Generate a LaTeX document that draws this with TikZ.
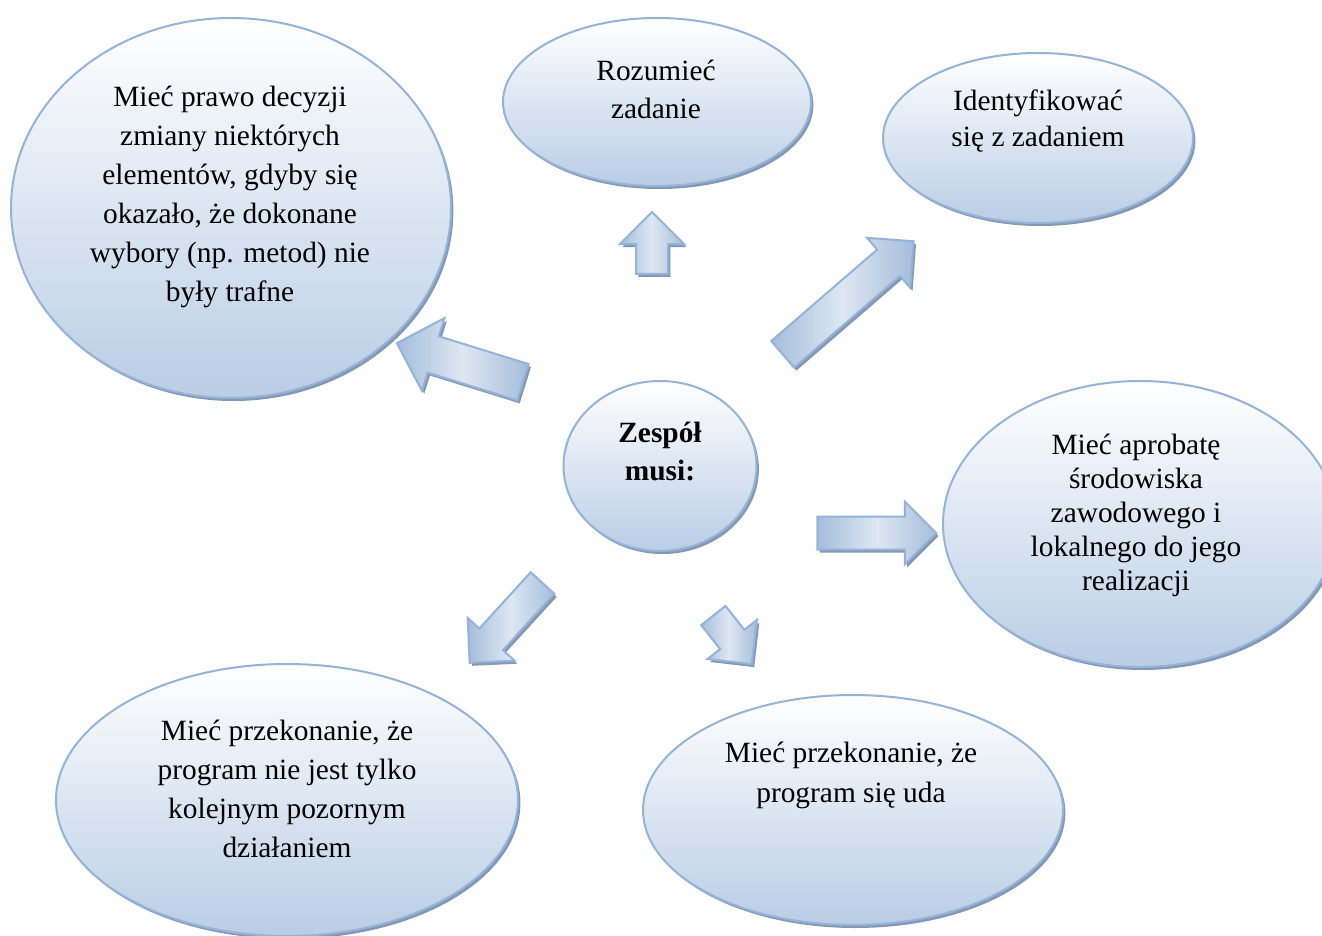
\documentclass[tikz,border=0pt]{standalone}
\usepackage{fontspec}
\setmainfont{Liberation Serif}
\usetikzlibrary{shapes.geometric,shapes.arrows,shadows}

\definecolor{bubbleline}{RGB}{149,179,215}
\definecolor{bubblefill}{RGB}{185,205,229}
\definecolor{arrowdark}{RGB}{164,189,220}
\definecolor{arrowlight}{RGB}{222,231,242}
\definecolor{shadowcol}{RGB}{132,151,180}

\begin{document}
\begin{tikzpicture}[
		x=0.5pt, y=-0.5pt,
		bubble/.style={ellipse, draw=bubbleline, line width=1pt, top color=white, bottom color=bubblefill, inner sep=0pt, drop shadow={shadow xshift=1.2pt, shadow yshift=-1.5pt, fill=shadowcol, opacity=1}},
		txt/.style={inner sep=0pt, align=center, font=\fontsize{14.7pt}{#1}\selectfont},
		txt/.default=19.5pt,
		barrow/.style={single arrow, draw=bubbleline, line width=1pt, inner xsep=0pt, left color=arrowdark, right color=arrowdark, middle color=arrowlight, drop shadow={shadow xshift=1.2pt, shadow yshift=-1.5pt, fill=shadowcol, opacity=1}},
		]
		\fill[white] (0,0) rectangle (1322,936);
		\useasboundingbox (0,0) rectangle (1322,936);

		%Main Nodes
		\node[bubble, minimum width=220pt, minimum height=190pt]	(decision)		at (231,208)	{};
		\node[bubble, minimum width=154pt, minimum height=84pt]	(understand)	at (657,102)	{};
		\node[bubble, minimum width=155pt, minimum height=85pt]	(identify)		at (1038,138)	{};
		\node[bubble, minimum width=96.5pt, minimum height=85pt]	(team)			at (660,466)	{};
		\node[bubble, minimum width=197pt, minimum height=143pt]	(approval)		at (1140,524)	{};
		\node[bubble, minimum width=231pt, minimum height=136pt]	(conviction_1)	at (287,800)	{};
		\node[bubble, minimum width=210pt, minimum height=115pt]	(conviction_2)	at (853,810)	{};

		%Texts
		\node[txt]			(decision_txt)		at (230,197)	{Mieć prawo decyzji\\zmiany niektórych\\elementów, gdyby się\\okazało, że dokonane\\wybory (np. metod) nie\\były trafne};
		\node[txt=19pt]		(understand_txt)	at (656,89)		{Rozumieć\\zadanie};
		\node[txt=18pt]		(identify_txt)		at (1038,121)	{Identyfikować\\się z zadaniem};
		\node[txt=19pt]		(team_txt)			at (660,451)	{\textbf{Zespół}\\\textbf{musi:}};
		\node[txt=17pt]		(approval_txt)		at (1136,515)	{Mieć aprobatę\\środowiska\\zawodowego i\\lokalnego do jego\\realizacji};
		\node[txt]			(conviction_1_txt)	at (287,789)	{Mieć przekonanie, że\\program nie jest tylko\\kolejnym pozornym\\działaniem};
		\node[txt=20pt]		(conviction_2_txt)	at (851,775)	{Mieć przekonanie, że\\program się uda};

		%Arrows
		\node[barrow, minimum height=31pt, inner ysep=7.5pt, single arrow head extend=8pt, rotate=90]			(arr_understand)	at (652,251)		{};
		\node[barrow, minimum height=86.5pt, inner ysep=8.25pt, single arrow head extend=7.75pt, rotate=40.8]	(arr_identify)		at (841.5,303.5)	{};
		\node[barrow, minimum height=66pt, inner ysep=9pt, single arrow head extend=9.5pt, rotate=162.8]		(arr_decision)		at (469,365.5)		{};
		\node[barrow, minimum height=59.5pt, inner ysep=7.75pt, single arrow head extend=7.5pt]				(arr_approval)		at (868.5,533)		{};
		\node[barrow, minimum height=54pt, inner ysep=7.5pt, single arrow head extend=7.9pt, rotate=-132.4]	(arr_conviction_1)	at (511.5,617)		{};
		\node[barrow, minimum height=31pt, inner ysep=7.25pt, single arrow head extend=8pt, rotate=-51.6]		(arr_conviction_2)	at (727.75,633.75)	{};

	\end{tikzpicture}
\end{document}
